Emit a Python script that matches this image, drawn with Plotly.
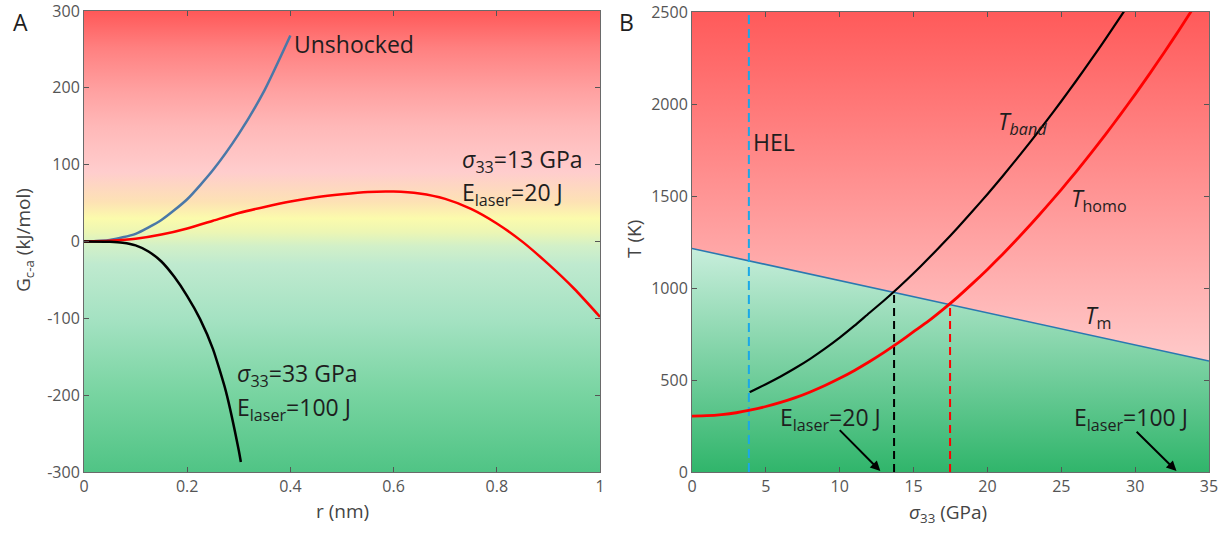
import plotly.graph_objects as go

# ---------------- Panel A data ----------------
A_X_RANGE = [0, 1]
A_Y_RANGE = [-300, 300]
A_X_TICKS = [0, 0.2, 0.4, 0.6, 0.8, 1]
A_X_LABELS = ['0', '0.2', '0.4', '0.6', '0.8', '1']
A_Y_TICKS = [-300, -200, -100, 0, 100, 200, 300]
A_Y_LABELS = ['-300', '-200', '-100', '0', '100', '200', '300']

r_unshocked = [0, 0.05, 0.1, 0.15, 0.2, 0.25, 0.3, 0.35, 0.4]
G_unshocked = [0, 2, 10, 28, 55, 93, 140, 197, 268]

r_13 = [0, 0.05, 0.1, 0.15, 0.2, 0.25, 0.3, 0.35, 0.4, 0.45, 0.5, 0.55, 0.6,
        0.65, 0.7, 0.75, 0.8, 0.85, 0.9, 0.95, 1.0]
G_13 = [0, 1, 3.5, 9, 17, 27, 37, 45, 52, 57.5, 61.5, 64.5, 65, 62.5, 55.5,
        42.5, 23.5, -0.5, -29.5, -61.5, -98]

r_33 = [0, 0.05, 0.075, 0.1, 0.125, 0.15, 0.175, 0.2, 0.225, 0.25, 0.275, 0.3, 0.304]
G_33 = [0, -0.3, -1.5, -5, -13, -26, -46, -71, -101, -140, -195, -272, -287]

A_bg_stops = [0, 0.17, 0.33, 0.45, 0.49, 0.52, 0.55, 0.585, 0.65, 0.75, 0.83, 0.92, 1]
A_bg_colors = ['#50c485', '#78d4a1', '#a4e2c2', '#bfeacf', '#d2f0c8', '#ecf6b4',
               '#fbfbac', '#fde2b4', '#ffcdcd', '#ffb8b8', '#ffa0a0', '#ff8080', '#ff5858']

# ---------------- Panel B data ----------------
B_X_RANGE = [0, 35]
B_Y_RANGE = [0, 2500]
B_X_TICKS = [0, 5, 10, 15, 20, 25, 30, 35]
B_Y_TICKS = [0, 500, 1000, 1500, 2000, 2500]

sigma_tm = [0, 35]
T_m = [1215, 603]
sigma_HEL = 3.85

sigma_band = [3.9, 4, 5, 6, 7, 8, 9, 10, 11, 12, 13, 14, 15, 16, 17, 18, 19, 20,
              21, 22, 23, 24, 25, 26, 27, 28, 29, 30]
T_band = [434, 438, 477, 519, 565, 615, 670, 730, 795, 864, 932, 1004, 1080,
          1160, 1243, 1329, 1418, 1510, 1605, 1703, 1804, 1908, 2015, 2125,
          2238, 2354, 2473, 2595]

sigma_homo = list(range(0, 35))
T_homo = [304, 306, 312, 322, 337, 356, 378, 404, 435, 470, 509, 552, 599, 650,
          704.5, 762.5, 820, 884, 952, 1025, 1101, 1181, 1265, 1352, 1442, 1535,
          1631.5, 1731.5, 1835, 1942, 2052.5, 2166.5, 2284, 2405, 2529.5]

sigma_cross_band = 13.68
T_cross_band = 978
sigma_cross_homo = 17.47
T_cross_homo = 909

B_red_stops = [0, 1]
B_red_colors = ['#ffcaca', '#ff5a5a']
B_green_stops = [0, 1]
B_green_colors = ['#30b56b', '#c8eedc']

FONT = 'Open Sans'
TXT = '#1e1e1e'

W, H = 1228, 536


def fx(px):
    return px / W


def fy(py):
    return 1 - py / H


fig = go.Figure()

# Panel A background
fig.add_trace(go.Scatter(
    x=[A_X_RANGE[0], A_X_RANGE[1], A_X_RANGE[1], A_X_RANGE[0], A_X_RANGE[0]],
    y=[A_Y_RANGE[0], A_Y_RANGE[0], A_Y_RANGE[1], A_Y_RANGE[1], A_Y_RANGE[0]],
    mode='lines', line=dict(width=0), fill='toself',
    fillgradient=dict(type='vertical', start=A_Y_RANGE[0], stop=A_Y_RANGE[1],
                      colorscale=[[a, c] for a, c in zip(A_bg_stops, A_bg_colors)]),
    hoverinfo='skip', showlegend=False, xaxis='x', yaxis='y'))

fig.add_trace(go.Scatter(x=r_unshocked, y=G_unshocked, mode='lines',
                         line=dict(color='#4a78a8', width=2.5, shape='spline', smoothing=0.6),
                         showlegend=False, xaxis='x', yaxis='y'))
fig.add_trace(go.Scatter(x=r_13, y=G_13, mode='lines',
                         line=dict(color='#ff0000', width=2.5, shape='spline', smoothing=0.6),
                         showlegend=False, xaxis='x', yaxis='y'))
fig.add_trace(go.Scatter(x=r_33, y=G_33, mode='lines',
                         line=dict(color='#000000', width=2.5, shape='spline', smoothing=0.5),
                         showlegend=False, xaxis='x', yaxis='y'))

# Panel B backgrounds
fig.add_trace(go.Scatter(
    x=[sigma_tm[0], sigma_tm[1], B_X_RANGE[1], B_X_RANGE[0], sigma_tm[0]],
    y=[T_m[0], T_m[1], B_Y_RANGE[1], B_Y_RANGE[1], T_m[0]],
    mode='lines', line=dict(width=0), fill='toself',
    fillgradient=dict(type='vertical', start=min(T_m), stop=B_Y_RANGE[1],
                      colorscale=[[a, c] for a, c in zip(B_red_stops, B_red_colors)]),
    hoverinfo='skip', showlegend=False, xaxis='x2', yaxis='y2'))
fig.add_trace(go.Scatter(
    x=[B_X_RANGE[0], B_X_RANGE[1], sigma_tm[1], sigma_tm[0], B_X_RANGE[0]],
    y=[B_Y_RANGE[0], B_Y_RANGE[0], T_m[1], T_m[0], B_Y_RANGE[0]],
    mode='lines', line=dict(width=0), fill='toself',
    fillgradient=dict(type='vertical', start=B_Y_RANGE[0], stop=max(T_m),
                      colorscale=[[a, c] for a, c in zip(B_green_stops, B_green_colors)]),
    hoverinfo='skip', showlegend=False, xaxis='x2', yaxis='y2'))

fig.add_trace(go.Scatter(x=sigma_tm, y=T_m, mode='lines',
                         line=dict(color='#2a78b0', width=1.6),
                         showlegend=False, xaxis='x2', yaxis='y2'))
fig.add_trace(go.Scatter(x=[sigma_HEL, sigma_HEL], y=B_Y_RANGE, mode='lines',
                         line=dict(color='#1aa8e8', width=2, dash='9px,5px'),
                         showlegend=False, xaxis='x2', yaxis='y2'))
fig.add_trace(go.Scatter(x=[sigma_cross_band, sigma_cross_band], y=[B_Y_RANGE[0], T_cross_band],
                         mode='lines', line=dict(color='#000000', width=2, dash='8px,5px'),
                         showlegend=False, xaxis='x2', yaxis='y2'))
fig.add_trace(go.Scatter(x=[sigma_cross_homo, sigma_cross_homo], y=[B_Y_RANGE[0], T_cross_homo],
                         mode='lines', line=dict(color='#ff0000', width=2, dash='8px,5px'),
                         showlegend=False, xaxis='x2', yaxis='y2'))
fig.add_trace(go.Scatter(x=sigma_band, y=T_band, mode='lines',
                         line=dict(color='#000000', width=2.2, shape='spline', smoothing=0.5),
                         showlegend=False, xaxis='x2', yaxis='y2'))
fig.add_trace(go.Scatter(x=sigma_homo, y=T_homo, mode='lines',
                         line=dict(color='#ff0000', width=2.8, shape='spline', smoothing=0.5),
                         showlegend=False, xaxis='x2', yaxis='y2'))

axis_common = dict(showgrid=False, zeroline=False, showline=True, linecolor='#6a6a6a',
                   linewidth=1, mirror='ticks', ticks='inside', ticklen=5,
                   tickcolor='#555555', automargin=False, ticklabeloverflow='allow',
                   tickfont=dict(family=FONT, size=16, color='#555555'))

fig.update_layout(
    width=W, height=H, margin=dict(l=0, r=0, t=0, b=0, autoexpand=False),
    paper_bgcolor='white', plot_bgcolor='white', showlegend=False,
    font=dict(family=FONT, color=TXT),
    xaxis=dict(domain=[fx(84), fx(600)], range=A_X_RANGE, tickvals=A_X_TICKS,
               ticktext=A_X_LABELS, anchor='y', **axis_common),
    yaxis=dict(domain=[fy(472), fy(11)], range=A_Y_RANGE, tickvals=A_Y_TICKS,
               ticktext=A_Y_LABELS, anchor='x', **axis_common),
    xaxis2=dict(domain=[fx(692), fx(1209)], range=B_X_RANGE, tickvals=B_X_TICKS,
                anchor='y2', **axis_common),
    yaxis2=dict(domain=[fy(472), fy(12)], range=B_Y_RANGE, tickvals=B_Y_TICKS,
                anchor='x2', **axis_common),
)

ann = []


def txt(text, x, y, xref, yref, size=23, xanchor='left', yanchor='middle', color=TXT, angle=0):
    ann.append(dict(text=text, x=x, y=y, xref=xref, yref=yref, showarrow=False,
                    xanchor=xanchor, yanchor=yanchor, textangle=angle,
                    font=dict(family=FONT, size=size, color=color)))


# Panel A texts
txt('Unshocked', 0.404, 257, 'x', 'y')
txt('<i>σ</i><sub>33</sub>=13 GPa', 0.728, 106, 'x', 'y')
txt('E<sub>laser</sub>=20 J', 0.728, 63, 'x', 'y')
txt('<i>σ</i><sub>33</sub>=33 GPa', 0.293, -173, 'x', 'y')
txt('E<sub>laser</sub>=100 J', 0.293, -217, 'x', 'y')
# Panel B texts
txt('HEL', 4.0, 1792, 'x2', 'y2')
txt('<i>T<sub>band</sub></i>', 20.6, 1900, 'x2', 'y2')
txt('<i>T</i><sub>homo</sub>', 25.5, 1480, 'x2', 'y2')
txt('<i>T</i><sub>m</sub>', 26.5, 845, 'x2', 'y2')
txt('E<sub>laser</sub>=20 J', 5.8, 290, 'x2', 'y2')
txt('E<sub>laser</sub>=100 J', 25.7, 290, 'x2', 'y2')

# panel letters & axis titles (paper coords)
txt('A', fx(20), fy(22), 'paper', 'paper', size=23, xanchor='center')
txt('B', fx(626), fy(22), 'paper', 'paper', size=23, xanchor='center')
txt('r (nm)', fx(342), fy(511), 'paper', 'paper', size=19, xanchor='center', color='#444444')
txt('<i>σ</i><sub>33</sub> (GPa)', fx(948), fy(513), 'paper', 'paper', size=19, xanchor='center', color='#444444')
txt('G<sub>c-a</sub> (kJ/mol)', fx(24), fy(240), 'paper', 'paper', size=19, xanchor='center', color='#444444', angle=-90)
txt('T (K)', fx(634), fy(239), 'paper', 'paper', size=19, xanchor='center', color='#444444', angle=-90)

# arrows
ann.append(dict(x=12.75, y=5, ax=9.9, ay=236, xref='x2', yref='y2', axref='x2', ayref='y2',
                showarrow=True, arrowhead=2, arrowsize=1, arrowwidth=2, arrowcolor='#000000', text=''))
ann.append(dict(x=32.8, y=5, ax=30.0, ay=227, xref='x2', yref='y2', axref='x2', ayref='y2',
                showarrow=True, arrowhead=2, arrowsize=1, arrowwidth=2, arrowcolor='#000000', text=''))

fig.update_layout(annotations=ann)
fig.write_html('out.html')
